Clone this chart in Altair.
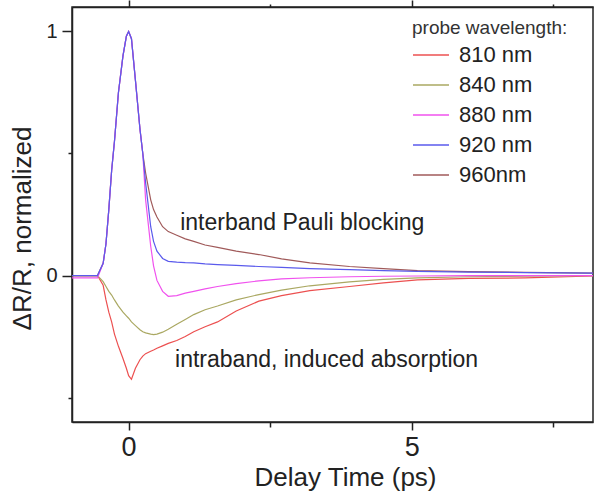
import altair as alt
import pandas as pd

# shared delay-time grid (ps)
t = [-1.0, -0.55, -0.45, -0.4, -0.35, -0.3, -0.25, -0.18, -0.1, -0.04, 0.0, 0.05,
     0.12, 0.2, 0.25, 0.3, 0.39, 0.44, 0.5, 0.6, 0.7, 0.85, 1.0, 1.15, 1.35, 1.57,
     1.9, 2.3, 2.7, 3.2, 3.9, 4.5, 5.1, 6.0, 7.0, 8.2]

labels = ["810 nm", "840 nm", "880 nm", "920 nm", "960nm"]
colors = ["#ec5050", "#aaa862", "#f052ee", "#5a5aec", "#a05a5a"]
draw_order = ["960nm", "810 nm", "840 nm", "880 nm", "920 nm"]

rise = [0.0, 0.0, 0.05, 0.13, 0.27, 0.43, 0.55, 0.75, 0.9, 0.98, 1.0, 0.97,
        0.8, 0.6, 0.5]

v810 = [0.0, 0.0, -0.04, -0.1, -0.15, -0.19, -0.24, -0.29, -0.34, -0.38, -0.41, -0.425,
        -0.38, -0.345, -0.33, -0.32, -0.31, -0.305, -0.298, -0.288, -0.278, -0.266,
        -0.25, -0.23, -0.21, -0.19, -0.145, -0.105, -0.082, -0.062, -0.045, -0.03,
        -0.018, -0.012, -0.01, -0.002]
v840 = [0.0, 0.0, -0.025, -0.045, -0.065, -0.08, -0.1, -0.125, -0.15, -0.165, -0.175,
        -0.19, -0.205, -0.222, -0.23, -0.235, -0.24, -0.242, -0.24, -0.232, -0.22,
        -0.2, -0.18, -0.16, -0.14, -0.125, -0.1, -0.078, -0.06, -0.042, -0.026,
        -0.016, -0.01, -0.005, -0.003, 0.0]
v880 = [-0.01, -0.01] + rise[2:] + [0.31, 0.12, 0.04, -0.02, -0.065, -0.085, -0.082,
        -0.072, -0.065, -0.055, -0.045, -0.033, -0.022, -0.014, -0.009, -0.005,
        -0.003, -0.002, 0.0, 0.0, 0.0]
v920 = rise + [0.38, 0.2, 0.14, 0.1, 0.07, 0.058, 0.055, 0.053, 0.052, 0.048, 0.045,
        0.042, 0.037, 0.033, 0.028, 0.024, 0.02, 0.017, 0.014, 0.012, 0.01]
v960 = rise + [0.42, 0.31, 0.27, 0.24, 0.2, 0.18, 0.165, 0.15, 0.14, 0.125, 0.115,
        0.1, 0.086, 0.068, 0.052, 0.037, 0.028, 0.02, 0.016, 0.013, 0.01]

series = dict(zip(labels, [v810, v840, v880, v920, v960]))
rows = []
for lab in draw_order:
    for ti, vi in zip(t, series[lab]):
        rows.append({"t": ti, "v": vi, "wl": lab})
df = pd.DataFrame(rows)

ann_text = ["interband Pauli blocking", "intraband, induced absorption"]
ann_t = [0.91, 0.82]
ann_v = [0.215, -0.345]
ann = pd.DataFrame({"text": ann_text, "t": ann_t, "v": ann_v})

FONT = "Liberation Sans"
xscale = alt.Scale(domain=[-1, 8.2], nice=False, zero=False)
yscale = alt.Scale(domain=[-0.6, 1.1], nice=False, zero=False)

major_x = "datum.value % 5 === 0"
major_y = "datum.value % 1 === 0"

lines = alt.Chart(df).mark_line(strokeWidth=1.2, clip=True).encode(
    x=alt.X("t:Q", scale=xscale,
            axis=alt.Axis(title="Delay Time (ps)", values=[0, 2.5, 5, 7.5],
                          labelExpr=f"{major_x} ? format(datum.value, 'd') : ''",
                          tickSize={"condition": {"test": major_x, "value": 8}, "value": 5},
                          grid=False, domainColor="#222", tickColor="#222",
                          domainWidth=1.5, tickWidth=1.5,
                          labelFontSize=27, labelFont=FONT, labelColor="#222",
                          labelPadding=4, titleFontSize=26, titleFont=FONT,
                          titleFontWeight="normal", titleColor="#222", titlePadding=4,
                          titleX=273)),
    y=alt.Y("v:Q", scale=yscale,
            axis=alt.Axis(title="ΔR/R, normalized", values=[-0.5, 0, 0.5, 1],
                          labelExpr=f"{major_y} ? format(datum.value, 'd') : ''",
                          tickSize={"condition": {"test": major_y, "value": 10}, "value": 4},
                          grid=False, domainColor="#222", tickColor="#222",
                          domainWidth=1.5, tickWidth=1.5,
                          labelFontSize=20, labelFont=FONT, labelColor="#222",
                          labelPadding=5, titleFontSize=26, titleFont=FONT,
                          titleFontWeight="normal", titleColor="#222", titlePadding=10,
                          titleY=221)),
    color=alt.Color("wl:N", scale=alt.Scale(domain=labels, range=colors),
                    legend=alt.Legend(title="probe wavelength:", orient="none",
                                      legendX=340, legendY=12,
                                      titleFontSize=19, titleFont=FONT,
                                      titleFontWeight="normal", titleColor="#333",
                                      titlePadding=-2,
                                      labelFontSize=22, labelFont=FONT, labelColor="#222",
                                      labelOffset=9, symbolType="stroke",
                                      symbolStrokeWidth=1.3, symbolSize=1300,
                                      rowPadding=0, padding=0)),
    order=alt.Order("t:Q"),
)

top_axis = alt.Chart(df).mark_line(opacity=0).encode(
    x=alt.X("t:Q", scale=xscale,
            axis=alt.Axis(orient="top", title=None, values=[0, 2.5, 5, 7.5],
                          labels=False,
                          tickSize={"condition": {"test": major_x, "value": 7}, "value": 3},
                          grid=False, domainColor="#222", tickColor="#222",
                          domainWidth=1.5, tickWidth=1.5)),
    y=alt.Y("v:Q", scale=yscale, axis=None),
    detail="wl:N",
)

texts = alt.Chart(ann).mark_text(align="left", baseline="middle", fontSize=23,
                                 font=FONT, color="#222").encode(
    x=alt.X("t:Q", scale=xscale, axis=None),
    y=alt.Y("v:Q", scale=yscale, axis=None),
    text="text:N",
)

chart = alt.layer(lines, top_axis, texts).resolve_axis(
    x="independent", y="independent").properties(
    width=521, height=415,
    autosize=alt.AutoSizeParams(type="none"),
    padding={"left": 72, "top": 7, "right": 1, "bottom": 82},
    background="white",
).configure_view(stroke="#222", strokeWidth=1.5)

chart.save("out.html", embed_options={"renderer": "svg", "actions": False})
